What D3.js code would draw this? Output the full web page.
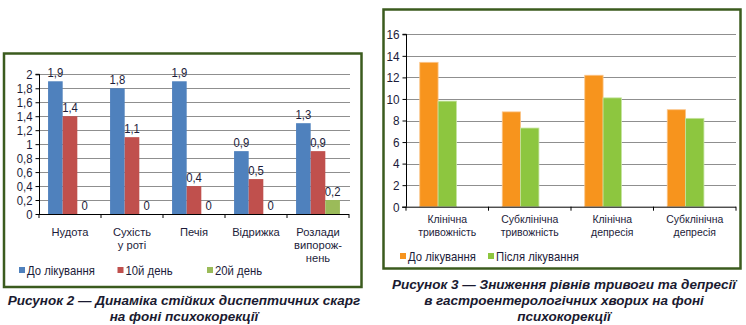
<!DOCTYPE html>
<html><head><meta charset="utf-8">
<script src="https://cdn.jsdelivr.net/npm/d3@7"></script>
<style>
html,body{margin:0;padding:0;background:#fff;}
svg{display:block;}
.t{font-family:"Liberation Sans",Arial,sans-serif;fill:#1c1c3a;}
.cap{font-family:"Liberation Sans",Arial,sans-serif;font-weight:bold;font-style:italic;fill:#1a1a30;font-size:13.5px;}
</style></head>
<body>
<svg id="c" width="746" height="325"></svg>
<script>
// ---- Chart 1 data ----
const cats1 = [["Нудота"], ["Сухість", "у роті"], ["Печія"], ["Відрижка"], ["Розлади", "випорож-", "нень"]];
const series1 = ["До лікування", "10й день", "20й день"];
const before1 = [1.9, 1.8, 1.9, 0.9, 1.3];
const day10 = [1.4, 1.1, 0.4, 0.5, 0.9];
const day20 = [0, 0, 0, 0, 0.2];
const colors1 = ["#4F81BD", "#C0504D", "#9BBB59"];
const ticks1 = [0, 0.2, 0.4, 0.6, 0.8, 1, 1.2, 1.4, 1.6, 1.8, 2];

// ---- Chart 2 data ----
const cats2 = [["Клінічна", "тривожність"], ["Субклінічна", "тривожність"], ["Клінічна", "депресія"], ["Субклінічна", "депресія"]];
const series2 = ["До лікування", "Після лікування"];
const before2 = [13.4, 8.8, 12.2, 9.0];
const after2 = [9.8, 7.3, 10.1, 8.2];
const colors2 = ["#F7941D", "#8DC63F"];
const ticks2 = [0, 2, 4, 6, 8, 10, 12, 14, 16];

const svg = d3.select("#c");
const frameColor = "#3B5B1E";
const gridColor = "#8f8f8f";
const fmt = d => String(+(+d).toFixed(1)).replace(".", ",");
const SQ = 0.87; // horizontal condensing to imitate a narrow face
function condense(sel, k = SQ) {
  sel.each(function() {
    const w = this.getComputedTextLength();
    if (w > 0) {
      this.setAttribute("textLength", (w * k).toFixed(2));
      this.setAttribute("lengthAdjust", "spacingAndGlyphs");
    }
  });
}
function lines(g, data, xf, y0, lh, fs, k) {
  const flat = [];
  data.forEach((arr, i) => arr.forEach((s, j) => flat.push({i, j, s})));
  return g.selectAll(null).data(flat).join("text").attr("class", "t")
    .attr("text-anchor", "middle").attr("font-size", fs)
    .attr("x", d => xf(d.i)).attr("y", d => y0 + d.j * lh).text(d => d.s)
    .call(condense, k);
}

// ================= Chart 1 =================
{
  const g = svg.append("g");
  g.append("rect").attr("x", 4).attr("y", 53.5).attr("width", 357.5).attr("height", 233.5)
    .attr("fill", "#fff").attr("stroke", frameColor).attr("stroke-width", 2.5);

  const left = 39, right = 349, top = 74.3, bottom = 214;
  const y = d3.scaleLinear().domain([0, 2]).range([bottom, top]);
  const x0 = d3.scaleBand().domain(d3.range(cats1.length)).range([left, right]).padding(0);
  const x1 = d3.scaleBand().domain(d3.range(series1.length)).range([0, x0.bandwidth()]).paddingInner(0).paddingOuter(0.62);

  g.selectAll(".grid").data(ticks1.slice(1)).join("line")
    .attr("x1", left).attr("x2", right + 1).attr("y1", d => Math.round(y(d)) + 0.5).attr("y2", d => Math.round(y(d)) + 0.5)
    .attr("stroke", gridColor).attr("stroke-width", 1.2);

  const vals = [before1, day10, day20];
  const rows = [];
  vals.forEach((arr, s) => arr.forEach((v, i) => rows.push({s, i, v})));

  g.selectAll(".bar").data(rows).join("rect")
    .attr("x", d => x0(d.i) + x1(d.s)).attr("width", x1.bandwidth())
    .attr("y", d => y(d.v)).attr("height", d => bottom - y(d.v))
    .attr("fill", d => colors1[d.s]);

  g.selectAll(".lbl").data(rows).join("text").attr("class", "t")
    .attr("x", d => x0(d.i) + x1(d.s) + x1.bandwidth() / 2)
    .attr("y", d => y(d.v) - 4.5)
    .attr("text-anchor", "middle").attr("font-size", 13)
    .text(d => fmt(d.v)).call(condense);

  const ya = g.append("g").attr("transform", `translate(${left + 0.5},0)`)
    .call(d3.axisLeft(y).tickValues(ticks1).tickSize(4).tickPadding(3).tickFormat(fmt));
  ya.select(".domain").attr("stroke", "#000").attr("d", `M-4,${top}H0V${bottom}`);
  ya.selectAll(".tick line").attr("stroke", "#000");
  ya.attr("font-family", null).attr("font-size", null);
  ya.selectAll(".tick text").attr("class", "t").attr("font-size", 13).attr("fill", null).call(condense);

  const xa = g.append("g");
  xa.append("line").attr("x1", left).attr("x2", right).attr("y1", bottom + 0.5).attr("y2", bottom + 0.5).attr("stroke", "#000");
  xa.selectAll(".xt").data(d3.range(cats1.length + 1)).join("line")
    .attr("x1", i => left + i * x0.step()).attr("x2", i => left + i * x0.step())
    .attr("y1", bottom).attr("y2", bottom + 4).attr("stroke", "#000");
  lines(xa, cats1, i => x0(i) + x0.bandwidth() / 2, 236, 13, 11.5, 0.97);

  const legX = [19, 117.5, 207];
  const lg = g.selectAll(".leg").data(series1).join("g").attr("transform", (d, i) => `translate(${legX[i]},270)`);
  lg.append("rect").attr("x", 0).attr("y", -3).attr("width", 6).attr("height", 6).attr("fill", (d, i) => colors1[i]);
  lg.append("text").attr("class", "t").attr("x", 8).attr("y", 4.5).attr("font-size", 13).text(d => d).call(condense);

  svg.append("text").attr("class", "cap").attr("x", 184).attr("y", 305).attr("text-anchor", "middle")
    .text("Рисунок 2 — Динаміка стійких диспептичних скарг");
  svg.append("text").attr("class", "cap").attr("x", 184).attr("y", 321).attr("text-anchor", "middle")
    .text("на фоні психокорекції");
}

// ================= Chart 2 =================
{
  const g = svg.append("g");
  g.append("rect").attr("x", 383.5).attr("y", 9.5).attr("width", 357).attr("height", 259)
    .attr("fill", "#fff").attr("stroke", frameColor).attr("stroke-width", 2.5);

  const left = 406, right = 736, top = 34.3, bottom = 206.7;
  const y = d3.scaleLinear().domain([0, 16]).range([bottom, top]);
  const x0 = d3.scaleBand().domain(d3.range(cats2.length)).range([left, right]).padding(0);
  // three slots per category (third slot empty, as in the original layout)
  const x1 = d3.scaleBand().domain([0, 1, 2]).range([0, x0.bandwidth()]).paddingInner(0).paddingOuter(0.75);

  g.selectAll(".grid").data(ticks2.slice(1)).join("line")
    .attr("x1", left).attr("x2", right).attr("y1", d => Math.round(y(d)) + 0.5).attr("y2", d => Math.round(y(d)) + 0.5)
    .attr("stroke", gridColor).attr("stroke-width", 1.2);

  const vals = [before2, after2];
  const rows = [];
  vals.forEach((arr, s) => arr.forEach((v, i) => rows.push({s, i, v})));

  g.selectAll(".bar").data(rows).join("rect")
    .attr("x", d => x0(d.i) + x1(d.s)).attr("width", x1.bandwidth())
    .attr("y", d => y(d.v)).attr("height", d => bottom - y(d.v))
    .attr("fill", d => colors2[d.s])
    .attr("stroke", d => d.s === 0 ? "#FBC58A" : "#C4E39E").attr("stroke-width", 0.8);

  const ya = g.append("g").attr("transform", `translate(${left + 0.5},0)`)
    .call(d3.axisLeft(y).tickValues(ticks2).tickSize(4).tickPadding(3));
  ya.select(".domain").attr("stroke", "#000").attr("d", `M-4,${top}H0V${bottom}`);
  ya.selectAll(".tick line").attr("stroke", "#000");
  ya.attr("font-family", null).attr("font-size", null);
  ya.selectAll(".tick text").attr("class", "t").attr("font-size", 13.5).attr("fill", null).call(condense);

  const xa = g.append("g");
  xa.append("line").attr("x1", left - 4).attr("x2", right).attr("y1", bottom + 0.5).attr("y2", bottom + 0.5).attr("stroke", "#000");
  xa.selectAll(".xt").data(d3.range(cats2.length + 1)).join("line")
    .attr("x1", i => left + i * x0.step()).attr("x2", i => left + i * x0.step())
    .attr("y1", bottom).attr("y2", bottom + 4).attr("stroke", "#000");
  lines(xa, cats2, i => x0(i) + x0.bandwidth() / 2, 223, 12.5, 11, 0.95);

  const legX = [400, 488];
  const lg = g.selectAll(".leg").data(series2).join("g").attr("transform", (d, i) => `translate(${legX[i]},256)`);
  lg.append("rect").attr("x", 0).attr("y", -3).attr("width", 6).attr("height", 6).attr("fill", (d, i) => colors2[i]);
  lg.append("text").attr("class", "t").attr("x", 8).attr("y", 4.5).attr("font-size", 13).text(d => d).call(condense);

  svg.append("text").attr("class", "cap").attr("x", 564).attr("y", 289).attr("text-anchor", "middle")
    .text("Рисунок 3 — Зниження рівнів тривоги та депресії");
  svg.append("text").attr("class", "cap").attr("x", 564).attr("y", 305).attr("text-anchor", "middle")
    .text("в гастроентерологічних хворих на фоні");
  svg.append("text").attr("class", "cap").attr("x", 564).attr("y", 321).attr("text-anchor", "middle")
    .text("психокорекції");
}
</script>
</body></html>
